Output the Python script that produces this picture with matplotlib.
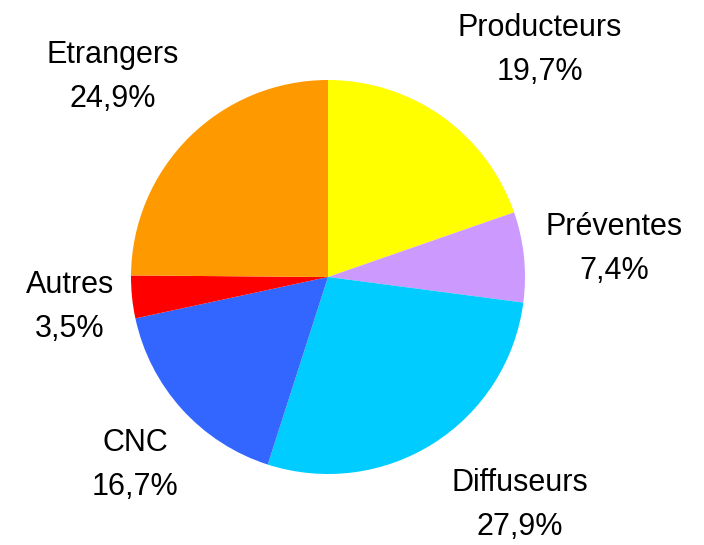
import matplotlib.pyplot as plt

labels = ['Producteurs', 'Préventes', 'Diffuseurs', 'CNC', 'Autres', 'Etrangers']
shares = [19.7, 7.4, 27.9, 16.7, 3.5, 24.9]
colors = ['#FFFF00', '#CC99FF', '#00CCFF', '#3366FF', '#FF0000', '#FF9900']

# label centres in figure pixels (x, y from top)
label_pos = [(540, 50), (614, 249), (520, 505), (135, 465), (70, 307), (113, 77)]

W, H = 704, 545
fig = plt.figure(figsize=(W / 100, H / 100), dpi=100)
cx, cy, r = 328, 277, 197
ax = fig.add_axes([(cx - r) / W, (H - cy - r) / H, 2 * r / W, 2 * r / H])
ax.pie(shares, colors=colors, startangle=90, counterclock=False, radius=1,
       wedgeprops=dict(linewidth=0))
ax.set_xlim(-1, 1)
ax.set_ylim(-1, 1)
ax.set_aspect('equal')
ax.axis('off')

for lab, val, (x, y) in zip(labels, shares, label_pos):
    txt = lab + '\n' + f'{val:.1f}'.replace('.', ',') + '%'
    fig.text(x / W, 1 - y / H, txt, ha='center', va='center',
             fontsize=22, family='Liberation Sans', linespacing=1.65)

fig.savefig('out.png', dpi=100)
